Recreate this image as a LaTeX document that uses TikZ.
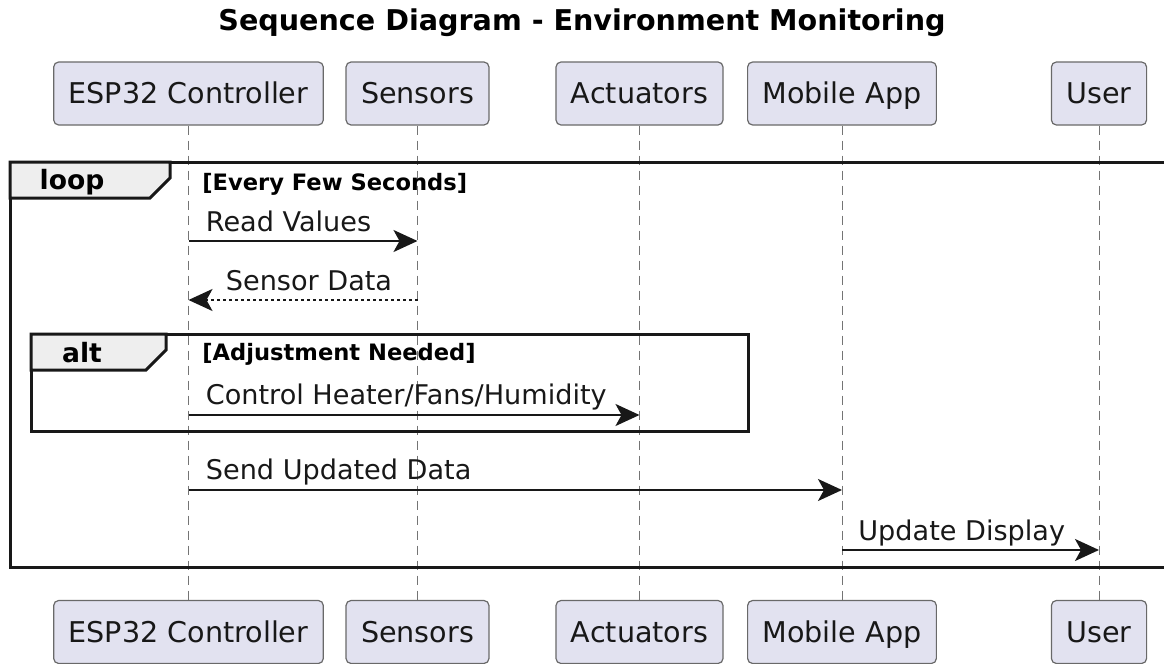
\documentclass[tikz,border=0pt]{standalone}
\usepackage{fontspec}
\setmainfont{DejaVu Sans}
\usetikzlibrary{arrows.meta,calc}

\definecolor{partfill}{HTML}{E2E2F0}
\definecolor{tabfill}{HTML}{EEEEEE}
\definecolor{ink}{HTML}{181818}

\tikzset{
  part/.style={draw=ink!65, fill=partfill, rounded corners=2.5pt, line width=0.6pt,
    minimum height=31.5pt, inner xsep=7.5pt, text height=10.5pt, text depth=0pt,
    text=ink, font=\fontsize{14.3}{17}\selectfont},
  life/.style={draw=ink!60, line width=0.5pt, dash pattern=on 4.5pt off 3pt},
  msg/.style={draw=ink, line width=1pt, -{Stealth[length=12pt,width=11pt,inset=3pt]}},
  reply/.style={msg, dash pattern=on 1.5pt off 1.5pt},
  msglabel/.style={anchor=base west, inner sep=0pt, text=ink, font=\fontsize{13.55}{16}\selectfont},
  frame/.style={draw=ink, line width=1.5pt},
  tab/.style={frame, fill=tabfill},
  guard/.style={anchor=base west, inner sep=0pt, font=\bfseries\fontsize{11.3}{13}\selectfont},
}

\begin{document}
\begin{tikzpicture}[x=0.5pt,y=-0.5pt]
\useasboundingbox (0,0) rectangle (1164,664);

\node[font=\bfseries\fontsize{14.3}{17}\selectfont] (title) at (582,23) {Sequence Diagram - Environment Monitoring};

% participants, top and bottom
\foreach \n/\t/\x in {esp/ESP32 Controller/188.5, sen/Sensors/417.5, act/Actuators/639.5, app/Mobile App/842, usr/User/1099} {
  \node[part] (\n-top) at (\x,93.5) {\t};
  \node[part] (\n-bot) at (\x,632) {\t};
}

% lifelines
\foreach \n in {esp,sen,act,app,usr}
  \draw[life] (\n-top.south) -- (\n-bot.north);

% loop frame
\draw[frame] (10,162) rectangle (1172,567);
\draw[tab] (10,162) -- (170,162) -- (170,178) -- (150,198) -- (10,198) -- cycle;
\node[font=\bfseries\fontsize{13.3}{16}\selectfont] (looplbl) at (72,182) {loop};
\node[guard] (loopguard) at (202,190) {[Every Few Seconds]};

% alt frame
\draw[frame] (31,334) rectangle (748,431);
\draw[tab] (31,334) -- (166,334) -- (166,350) -- (146,370) -- (31,370) -- cycle;
\node[font=\bfseries\fontsize{13.3}{16}\selectfont] (altlbl) at (82,353) {alt};
\node[guard] (altguard) at (202,360) {[Adjustment Needed]};

% message rows
\coordinate (m1) at (0,241);
\coordinate (m2) at (0,300);
\coordinate (m3) at (0,415);
\coordinate (m4) at (0,490);
\coordinate (m5) at (0,550);

% messages
\draw[msg] (esp-top |- m1) -- (sen-top |- m1);
\node[msglabel] (l1) at ($(esp-top |- m1)+(17,-10)$) {Read Values};

\draw[reply] (sen-top |- m2) -- (esp-top |- m2);
\node[msglabel] (l2) at ($(esp-top |- m2)+(37,-10)$) {Sensor Data};

\draw[msg] (esp-top |- m3) -- (act-top |- m3);
\node[msglabel] (l3) at ($(esp-top |- m3)+(17,-11)$) {Control Heater/Fans/Humidity};

\draw[msg] (esp-top |- m4) -- (app-top |- m4);
\node[msglabel] (l4) at ($(esp-top |- m4)+(17,-11)$) {Send Updated Data};

\draw[msg] (app-top |- m5) -- (usr-top |- m5);
\node[msglabel] (l5) at ($(app-top |- m5)+(16,-10)$) {Update Display};
\end{tikzpicture}
\end{document}
